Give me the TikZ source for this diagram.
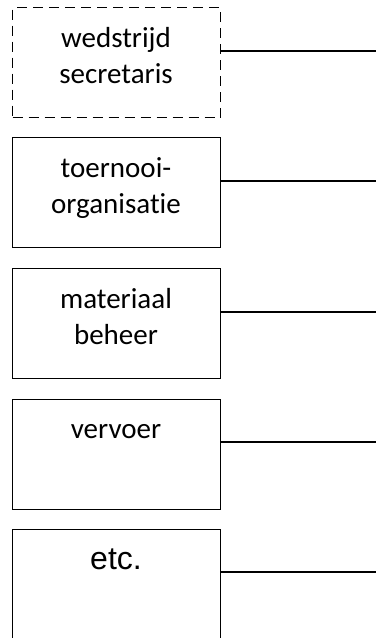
\documentclass[tikz,border=0pt]{standalone}
\usepackage{fontspec}
\setmainfont{Carlito}[Ligatures=NoCommon]
\newfontfamily\etcfont{Liberation Sans}
\usepackage{tikz}
\usetikzlibrary{positioning}

\tikzset{
  taak/.style={draw, line width=1.3pt, minimum width=208pt, minimum height=110pt,
    inner sep=0pt, anchor=north west},
  taaktekst/.style={align=center, anchor=base, inner sep=0pt,
    font=\fontsize{29}{36}\selectfont},
  lijn/.style={line width=1.3pt}
}

\begin{document}
\begin{tikzpicture}[x=1pt,y=-1pt]
  \useasboundingbox (0,0) rectangle (376,638);

  \node[taak, dash pattern=on 10pt off 6pt] (wed) at (12,7)   {};
  \node[taak]                               (toe) at (12,137) {};
  \node[taak]                               (mat) at (12,268) {};
  \node[taak]                               (ver) at (12,399) {};
  \node[taak]                               (etc) at (12,529) {};

  % base anchor = baseline of the last line
  \node[taaktekst] (wedtxt) at (116,83)  {wedstrijd\\secretaris};
  \node[taaktekst] (toetxt) at (116,213) {toernooi-\\organisatie};
  \node[taaktekst] (mattxt) at (116,344) {materiaal\\beheer};
  \node[taaktekst] (vertxt) at (116,438) {vervoer};
  \node[taaktekst, font=\fontsize{32}{36}\etcfont] (etctxt) at (116,569) {etc.};

  \coordinate (wedend) at (376,51);
  \coordinate (toeend) at (376,181);
  \coordinate (matend) at (376,312);
  \coordinate (verend) at (376,442);
  \coordinate (etcend) at (376,572);

  \draw[lijn] (wed.east |- wedend) -- (wedend);
  \draw[lijn] (toe.east |- toeend) -- (toeend);
  \draw[lijn] (mat.east |- matend) -- (matend);
  \draw[lijn] (ver.east |- verend) -- (verend);
  \draw[lijn] (etc.east |- etcend) -- (etcend);
\end{tikzpicture}
\end{document}
